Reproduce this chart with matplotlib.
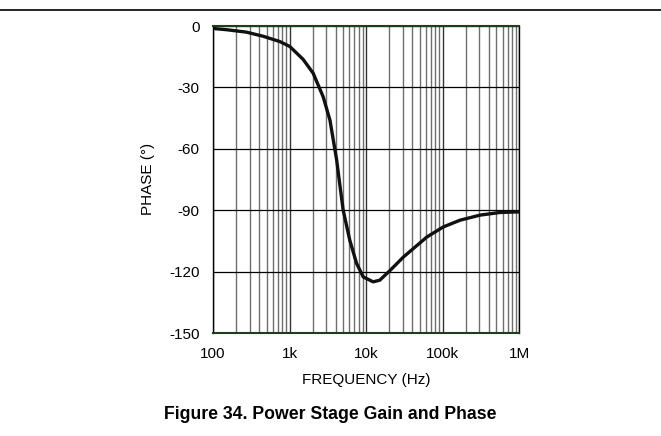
import matplotlib
matplotlib.use("Agg")
import matplotlib.pyplot as plt
import numpy as np
from matplotlib.ticker import FixedLocator, NullFormatter

plt.rcParams['font.family'] = ['Liberation Sans', 'DejaVu Sans']

freq_hz = [100, 149, 273, 450, 744, 1005, 1500, 2030, 2740, 3360, 4110, 4440, 5000,
           6100, 7480, 9130, 12300, 15000, 20500, 30500, 61800, 101000, 167000,
           306000, 560000, 1000000]
phase_deg = [-1.2, -1.8, -3.0, -5.0, -7.6, -10.0, -16.3, -23.1, -34.6, -46.0, -65.5,
             -75.3, -90.0, -104.7, -116.0, -122.6, -125.0, -124.2, -119.4, -112.9,
             -103.1, -98.2, -94.9, -92.4, -91.1, -90.8]

x_ticks = [100, 1e3, 1e4, 1e5, 1e6]
x_tick_labels = ['100', '1k', '10k', '100k', '1M']
y_ticks = [0, -30, -60, -90, -120, -150]

W, H = 661, 436
fig = plt.figure(figsize=(W / 100, H / 100), dpi=100)
ax = fig.add_axes([213 / W, 1 - 333 / H, (519.5 - 213) / W, (333 - 26) / H])

ax.set_xscale('log')
ax.set_xlim(100, 1e6)
ax.set_ylim(-150, 0)

minor = [m * 10 ** e for e in range(2, 6) for m in range(2, 10)]
ax.xaxis.set_minor_locator(FixedLocator(minor))
ax.xaxis.set_minor_formatter(NullFormatter())
ax.set_xticks(x_ticks)
ax.set_xticklabels(x_tick_labels)
ax.set_yticks(y_ticks)
ax.set_yticklabels([str(v) for v in y_ticks])

ax.grid(True, which='minor', axis='x', color='#6e6e6e', lw=1.0)
ax.grid(True, which='major', axis='x', color='#333333', lw=1.0)
ax.grid(True, which='major', axis='y', color='#000000', lw=0.9)
ax.set_axisbelow(True)

ax.tick_params(which='both', length=0, labelsize=11, colors='black')
ax.tick_params(axis='x', pad=10)
ax.tick_params(axis='y', pad=9.5)

for s in ['left', 'right']:
    ax.spines[s].set_color('black')
    ax.spines[s].set_linewidth(1.0)
for s in ['top', 'bottom']:
    ax.spines[s].set_color('#1e3d1e')
    ax.spines[s].set_linewidth(1.5)

ax.plot(freq_hz, phase_deg, color='#111111', lw=2.4, solid_capstyle='round')

fig.text(366 / W, 1 - 380 / H, 'FREQUENCY (Hz)', fontsize=11, ha='center', va='center')
fig.text(148 / W, 1 - 179 / H, 'PHASE (°)', rotation=90, fontsize=11,
         ha='center', va='center')

fig.add_artist(plt.Line2D([0, 1], [1 - 10 / H, 1 - 10 / H], color='black', lw=1.2,
                          transform=fig.transFigure))
fig.text(330 / W, 1 - 414 / H, 'Figure 34. Power Stage Gain and Phase',
         fontsize=12.7, fontweight='bold', ha='center', va='center')

fig.savefig('out.png', dpi=100)
